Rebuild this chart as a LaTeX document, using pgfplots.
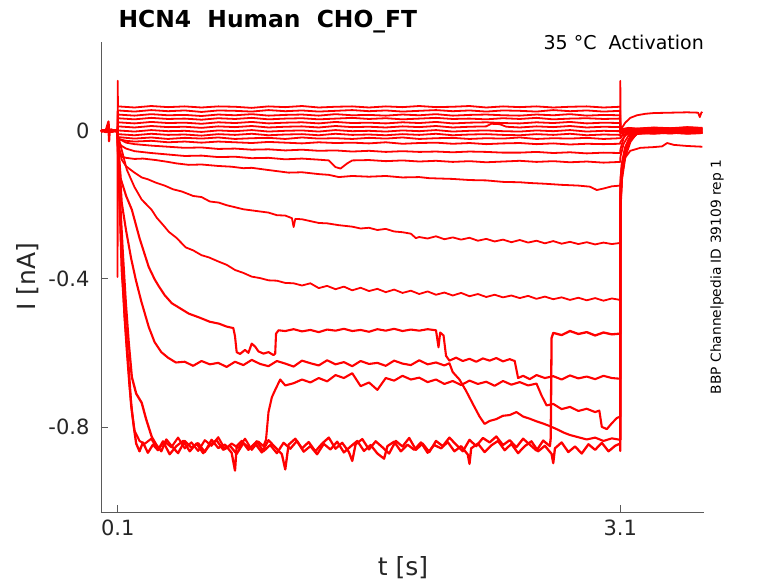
\documentclass[border=0pt]{standalone}
\usepackage{pgfplots}
\pgfplotsset{compat=1.18}
\usepackage{fontspec}
\setmainfont{DejaVu Sans}
\definecolor{axgray}{RGB}{38,38,38}
\definecolor{axline}{RGB}{90,90,90}
\definecolor{tr}{RGB}{255,0,0}
\pgfplotsset{trc/.style={draw=tr, solid, no markers, line width=1.8pt, line join=round}}
\begin{document}
\begin{tikzpicture}
\useasboundingbox (-101pt,-71pt) rectangle (677pt,512pt);
\begin{axis}[
 scale only axis, width=603pt, height=470pt,
 xmin=0, xmax=3.6, ymin=-1.03, ymax=0.24,
 axis lines=left,
 axis line style={-, draw=axline, line width=0.7pt},
 tick align=inside, major tick length=7pt,
 tick style={draw=axline, line width=0.7pt},
 xtick={0.1,3.1}, xticklabels={0.1,3.1},
 ytick={-0.8,-0.4,0}, yticklabels={-0.8,-0.4,0},
 /pgf/number format/assume math mode=true,
 tick label style={font=\fontsize{21}{24}\selectfont, text=axgray},
 yticklabel style={xshift=-8pt},
 xticklabel style={yshift=-4pt},
 clip=false,
]
% N1
\addplot[trc] coordinates {(0,0.003)(0.03,-0.004)(0.06,0.002)(0.099,-0.001)(0.1,0.135)(0.101,0.066)(0.2,0.063)(0.3,0.067)(0.4,0.064)(0.5,0.066)(0.6,0.063)(0.7,0.066)(0.8,0.065)(0.9,0.062)(1.0,0.066)(1.1,0.064)(1.2,0.067)(1.3,0.063)(1.4,0.065)(1.5,0.066)(1.6,0.063)(1.7,0.066)(1.8,0.064)(1.9,0.067)(2.0,0.064)(2.1,0.065)(2.2,0.067)(2.3,0.063)(2.4,0.066)(2.5,0.064)(2.6,0.066)(2.7,0.063)(2.8,0.065)(2.9,0.066)(3.0,0.063)(3.1,0.065)(3.1005,0.135)(3.101,0.004)(3.15,0.007)(3.2,0.005)(3.3,0.008)(3.4,0.006)(3.5,0.009)(3.59,0.007)};
% N2
\addplot[trc] coordinates {(0,-0.002)(0.03,0.003)(0.06,-0.003)(0.099,0.002)(0.101,0.055)(0.2,0.052)(0.3,0.056)(0.4,0.053)(0.5,0.055)(0.6,0.051)(0.7,0.055)(0.8,0.054)(0.9,0.052)(1.0,0.056)(1.1,0.053)(1.2,0.055)(1.3,0.052)(1.4,0.054)(1.5,0.056)(1.6,0.053)(1.7,0.055)(1.8,0.052)(1.9,0.054)(2.0,0.056)(2.1,0.053)(2.2,0.055)(2.3,0.052)(2.4,0.055)(2.5,0.054)(2.6,0.052)(2.7,0.056)(2.8,0.053)(2.9,0.055)(3.0,0.052)(3.1,0.054)(3.101,0.002)(3.13,0.022)(3.16,0.035)(3.2,0.042)(3.25,0.046)(3.3,0.048)(3.4,0.049)(3.5,0.050)(3.565,0.049)(3.575,0.037)(3.585,0.050)(3.59,0.048)};
% N3
\addplot[trc] coordinates {(0,0.001)(0.03,-0.003)(0.06,0.004)(0.099,-0.002)(0.101,0.044)(0.2,0.041)(0.3,0.045)(0.4,0.042)(0.5,0.043)(0.6,0.040)(0.7,0.044)(0.8,0.042)(0.9,0.045)(1.0,0.041)(1.1,0.043)(1.2,0.044)(1.3,0.041)(1.4,0.045)(1.5,0.042)(1.6,0.043)(1.7,0.041)(1.8,0.044)(1.9,0.042)(2.0,0.045)(2.1,0.041)(2.2,0.043)(2.3,0.044)(2.4,0.042)(2.5,0.041)(2.6,0.044)(2.7,0.042)(2.8,0.045)(2.9,0.041)(3.0,0.043)(3.1,0.042)(3.101,0.003)(3.15,0.008)(3.2,0.006)(3.3,0.009)(3.4,0.007)(3.5,0.010)(3.59,0.008)};
% N4
\addplot[trc] coordinates {(0,-0.003)(0.03,0.002)(0.06,-0.001)(0.099,0.003)(0.101,0.034)(0.2,0.031)(0.3,0.035)(0.4,0.032)(0.5,0.033)(0.6,0.030)(0.7,0.034)(0.8,0.032)(0.9,0.035)(1.0,0.031)(1.1,0.033)(1.2,0.034)(1.3,0.031)(1.4,0.033)(1.5,0.035)(1.6,0.032)(1.7,0.034)(1.8,0.031)(1.9,0.033)(2.0,0.035)(2.1,0.032)(2.2,0.033)(2.3,0.031)(2.4,0.034)(2.5,0.032)(2.6,0.035)(2.7,0.031)(2.8,0.033)(2.9,0.034)(3.0,0.032)(3.1,0.033)(3.101,-0.002)(3.15,0.004)(3.2,0.002)(3.3,0.005)(3.4,0.003)(3.5,0.006)(3.59,0.004)};
% N5
\addplot[trc] coordinates {(0,0.002)(0.03,-0.002)(0.06,0.003)(0.099,-0.003)(0.101,0.023)(0.2,0.020)(0.3,0.024)(0.4,0.021)(0.5,0.022)(0.6,0.019)(0.7,0.023)(0.8,0.021)(0.9,0.024)(1.0,0.020)(1.1,0.022)(1.2,0.023)(1.3,0.020)(1.4,0.024)(1.5,0.021)(1.6,0.022)(1.7,0.020)(1.8,0.023)(1.9,0.021)(2.0,0.024)(2.1,0.020)(2.2,0.022)(2.3,0.023)(2.4,0.021)(2.5,0.020)(2.6,0.023)(2.7,0.021)(2.8,0.024)(2.9,0.020)(3.0,0.022)(3.1,0.021)(3.101,-0.004)(3.15,0.002)(3.2,0.0)(3.3,0.003)(3.4,0.001)(3.5,0.004)(3.59,0.002)};
% N6
\addplot[trc] coordinates {(0,-0.001)(0.03,0.003)(0.06,-0.002)(0.099,0.002)(0.101,0.012)(0.2,0.009)(0.3,0.013)(0.4,0.010)(0.5,0.011)(0.6,0.008)(0.7,0.012)(0.8,0.010)(0.9,0.013)(1.0,0.009)(1.1,0.011)(1.2,0.012)(1.3,0.009)(1.4,0.013)(1.5,0.010)(1.6,0.011)(1.7,0.009)(1.8,0.012)(1.9,0.010)(2.0,0.013)(2.1,0.009)(2.2,0.011)(2.3,0.012)(2.33,0.019)(2.38,0.018)(2.42,0.011)(2.5,0.009)(2.6,0.012)(2.7,0.010)(2.8,0.013)(2.9,0.009)(3.0,0.011)(3.1,0.010)(3.101,-0.006)(3.15,0.0)(3.2,-0.002)(3.3,0.001)(3.4,-0.001)(3.5,0.002)(3.59,0.0)};
% N7
\addplot[trc] coordinates {(0,0.002)(0.03,-0.003)(0.06,0.001)(0.0985,-0.001)(0.099,-0.395)(0.0995,-0.002)(0.101,0.001)(0.2,-0.002)(0.3,0.002)(0.4,-0.001)(0.5,0.000)(0.6,-0.003)(0.7,0.001)(0.8,-0.001)(0.9,0.002)(1.0,-0.002)(1.1,0.000)(1.2,0.001)(1.3,-0.002)(1.4,0.002)(1.5,-0.001)(1.6,0.000)(1.7,-0.002)(1.8,0.001)(1.9,-0.001)(2.0,0.002)(2.1,-0.002)(2.2,0.000)(2.3,0.001)(2.4,-0.001)(2.5,-0.002)(2.6,0.001)(2.7,-0.001)(2.8,0.002)(2.9,-0.002)(3.0,0.000)(3.1,-0.001)(3.101,-0.008)(3.15,-0.002)(3.2,-0.004)(3.3,-0.001)(3.4,-0.003)(3.5,0.000)(3.59,-0.002)};
% N8
\addplot[trc] coordinates {(0,-0.002)(0.03,0.002)(0.06,-0.003)(0.099,0.001)(0.101,-0.009)(0.2,-0.012)(0.3,-0.008)(0.4,-0.011)(0.5,-0.010)(0.6,-0.013)(0.7,-0.009)(0.8,-0.011)(0.9,-0.008)(1.0,-0.012)(1.1,-0.010)(1.2,-0.009)(1.3,-0.012)(1.4,-0.008)(1.5,-0.011)(1.6,-0.010)(1.7,-0.012)(1.8,-0.009)(1.9,-0.011)(2.0,-0.008)(2.1,-0.012)(2.2,-0.010)(2.3,-0.009)(2.4,-0.011)(2.5,-0.012)(2.6,-0.009)(2.7,-0.011)(2.8,-0.008)(2.9,-0.012)(3.0,-0.010)(3.1,-0.011)(3.101,-0.015)(3.15,-0.005)(3.2,-0.003)(3.3,-0.006)(3.4,-0.004)(3.5,-0.002)(3.59,-0.004)};
% N9
\addplot[trc] coordinates {(0,0.003)(0.03,-0.002)(0.06,0.002)(0.099,-0.002)(0.101,-0.017)(0.2,-0.021)(0.3,-0.018)(0.4,-0.022)(0.5,-0.019)(0.6,-0.021)(0.7,-0.018)(0.8,-0.022)(0.9,-0.020)(1.0,-0.019)(1.1,-0.022)(1.2,-0.018)(1.3,-0.021)(1.4,-0.020)(1.5,-0.022)(1.6,-0.019)(1.7,-0.021)(1.8,-0.018)(1.9,-0.022)(2.0,-0.020)(2.1,-0.019)(2.2,-0.022)(2.3,-0.020)(2.4,-0.021)(2.5,-0.018)(2.6,-0.022)(2.7,-0.020)(2.8,-0.021)(2.9,-0.019)(3.0,-0.022)(3.1,-0.020)(3.101,-0.02)(3.12,-0.006)(3.15,0.002)(3.2,0.004)(3.3,0.002)(3.4,0.005)(3.5,0.003)(3.59,0.004)};
% N10
\addplot[trc] coordinates {(0,-0.001)(0.03,0.003)(0.06,-0.002)(0.099,0.002)(0.101,-0.022)(0.15,-0.027)(0.2,-0.029)(0.3,-0.027)(0.4,-0.031)(0.5,-0.029)(0.6,-0.032)(0.7,-0.029)(0.8,-0.031)(0.9,-0.033)(1.0,-0.030)(1.1,-0.032)(1.2,-0.034)(1.3,-0.031)(1.4,-0.033)(1.5,-0.032)(1.6,-0.034)(1.7,-0.031)(1.8,-0.035)(1.9,-0.033)(2.0,-0.032)(2.1,-0.035)(2.2,-0.033)(2.3,-0.036)(2.4,-0.034)(2.5,-0.033)(2.6,-0.036)(2.7,-0.034)(2.8,-0.037)(2.9,-0.035)(3.0,-0.036)(3.1,-0.035)(3.101,-0.03)(3.13,-0.012)(3.16,-0.006)(3.2,-0.005)(3.3,-0.007)(3.4,-0.005)(3.5,-0.008)(3.59,-0.006)};
% N11
\addplot[trc] coordinates {(0,0.001)(0.03,-0.002)(0.06,0.003)(0.099,-0.001)(0.101,-0.02)(0.15,-0.032)(0.2,-0.036)(0.3,-0.040)(0.4,-0.043)(0.5,-0.046)(0.6,-0.045)(0.7,-0.049)(0.8,-0.048)(0.9,-0.051)(1.0,-0.050)(1.1,-0.053)(1.2,-0.051)(1.3,-0.054)(1.4,-0.053)(1.5,-0.056)(1.6,-0.054)(1.7,-0.057)(1.8,-0.055)(1.9,-0.057)(2.0,-0.056)(2.1,-0.058)(2.2,-0.056)(2.3,-0.057)(2.4,-0.059)(2.5,-0.059)(2.6,-0.057)(2.7,-0.060)(2.8,-0.058)(2.9,-0.061)(3.0,-0.059)(3.1,-0.060)(3.101,-0.05)(3.12,-0.02)(3.15,0.002)(3.2,0.006)(3.3,0.004)(3.4,0.007)(3.5,0.005)(3.59,0.006)};
% N12
\addplot[trc] coordinates {(0,-0.002)(0.03,0.002)(0.06,-0.001)(0.099,0.001)(0.101,-0.025)(0.12,-0.04)(0.15,-0.048)(0.2,-0.055)(0.3,-0.060)(0.4,-0.064)(0.5,-0.068)(0.6,-0.067)(0.7,-0.071)(0.8,-0.070)(0.9,-0.074)(1.0,-0.073)(1.1,-0.077)(1.2,-0.075)(1.3,-0.078)(1.36,-0.080)(1.40,-0.098)(1.43,-0.102)(1.47,-0.088)(1.5,-0.080)(1.6,-0.079)(1.7,-0.082)(1.8,-0.080)(1.9,-0.083)(2.0,-0.081)(2.1,-0.084)(2.2,-0.082)(2.3,-0.085)(2.4,-0.083)(2.5,-0.081)(2.6,-0.084)(2.7,-0.082)(2.8,-0.085)(2.9,-0.083)(3.0,-0.086)(3.1,-0.084)(3.101,-0.07)(3.12,-0.035)(3.15,-0.012)(3.2,-0.006)(3.3,-0.008)(3.4,-0.005)(3.5,-0.007)(3.59,-0.006)};
% A2
\addplot[trc] coordinates {(0,0.002)(0.03,-0.002)(0.06,0.002)(0.099,-0.002)(0.101,-0.04)(0.124,-0.07)(0.15,-0.073)(0.2,-0.076)(0.25,-0.075)(0.327,-0.079)(0.4,-0.084)(0.45,-0.088)(0.524,-0.092)(0.6,-0.091)(0.7,-0.095)(0.78,-0.097)(0.85,-0.101)(0.9,-0.100)(1.0,-0.106)(1.12,-0.113)(1.2,-0.112)(1.3,-0.117)(1.36,-0.119)(1.42,-0.125)(1.5,-0.122)(1.6,-0.124)(1.7,-0.122)(1.8,-0.126)(1.9,-0.125)(1.96,-0.128)(2.1,-0.130)(2.2,-0.133)(2.3,-0.134)(2.4,-0.138)(2.5,-0.139)(2.56,-0.141)(2.65,-0.143)(2.75,-0.146)(2.85,-0.148)(2.92,-0.151)(2.96,-0.160)(3.0,-0.156)(3.05,-0.150)(3.1,-0.148)(3.101,-0.15)(3.11,-0.105)(3.13,-0.072)(3.16,-0.054)(3.22,-0.046)(3.3,-0.044)(3.35,-0.042)(3.38,-0.033)(3.42,-0.038)(3.5,-0.041)(3.59,-0.043)};
% A
\addplot[trc] coordinates {(0,-0.001)(0.03,0.003)(0.06,-0.002)(0.099,0.002)(0.1,-0.02)(0.11,-0.05)(0.124,-0.078)(0.15,-0.096)(0.2,-0.113)(0.243,-0.126)(0.28,-0.131)(0.327,-0.140)(0.38,-0.148)(0.43,-0.158)(0.483,-0.164)(0.55,-0.176)(0.6,-0.179)(0.65,-0.191)(0.704,-0.194)(0.75,-0.201)(0.805,-0.207)(0.85,-0.212)(0.9,-0.215)(0.95,-0.218)(1.0,-0.221)(1.05,-0.228)(1.1,-0.229)(1.14,-0.236)(1.15,-0.26)(1.16,-0.238)(1.2,-0.239)(1.25,-0.244)(1.3,-0.249)(1.35,-0.250)(1.42,-0.255)(1.5,-0.259)(1.55,-0.264)(1.6,-0.262)(1.65,-0.268)(1.7,-0.265)(1.75,-0.272)(1.8,-0.274)(1.85,-0.278)(1.88,-0.290)(1.9,-0.287)(1.95,-0.291)(2.0,-0.285)(2.05,-0.293)(2.1,-0.288)(2.15,-0.294)(2.2,-0.289)(2.25,-0.297)(2.3,-0.292)(2.35,-0.299)(2.4,-0.294)(2.45,-0.301)(2.5,-0.295)(2.55,-0.302)(2.6,-0.297)(2.65,-0.304)(2.7,-0.298)(2.75,-0.305)(2.8,-0.300)(2.85,-0.306)(2.9,-0.301)(2.95,-0.307)(3.0,-0.302)(3.05,-0.306)(3.1,-0.303)(3.101,-0.13)(3.11,-0.09)(3.13,-0.05)(3.16,-0.02)(3.2,-0.006)(3.3,-0.004)(3.4,-0.006)(3.5,-0.003)(3.59,-0.005)};
% B
\addplot[trc] coordinates {(0,0.002)(0.03,-0.002)(0.06,0.003)(0.099,-0.001)(0.1,-0.01)(0.12,-0.045)(0.154,-0.105)(0.2,-0.152)(0.243,-0.186)(0.28,-0.203)(0.303,-0.214)(0.333,-0.235)(0.37,-0.254)(0.405,-0.273)(0.45,-0.289)(0.506,-0.315)(0.55,-0.323)(0.6,-0.336)(0.644,-0.342)(0.7,-0.353)(0.75,-0.362)(0.8,-0.376)(0.85,-0.384)(0.9,-0.394)(0.95,-0.398)(1.0,-0.404)(1.05,-0.405)(1.1,-0.411)(1.15,-0.412)(1.2,-0.418)(1.25,-0.412)(1.3,-0.425)(1.35,-0.419)(1.4,-0.428)(1.45,-0.421)(1.5,-0.431)(1.55,-0.424)(1.6,-0.433)(1.65,-0.427)(1.7,-0.436)(1.75,-0.429)(1.8,-0.438)(1.85,-0.432)(1.9,-0.441)(1.95,-0.434)(2.0,-0.443)(2.05,-0.437)(2.1,-0.445)(2.15,-0.438)(2.2,-0.447)(2.25,-0.441)(2.3,-0.449)(2.35,-0.443)(2.4,-0.450)(2.45,-0.445)(2.5,-0.452)(2.55,-0.446)(2.6,-0.454)(2.65,-0.448)(2.7,-0.455)(2.75,-0.450)(2.8,-0.457)(2.85,-0.451)(2.9,-0.458)(2.95,-0.452)(3.0,-0.459)(3.05,-0.453)(3.1,-0.457)(3.101,-0.18)(3.11,-0.12)(3.13,-0.06)(3.16,-0.025)(3.2,-0.006)(3.3,-0.003)(3.4,-0.005)(3.5,-0.002)(3.59,-0.004)};
% C
\addplot[trc, line width=2.1pt] coordinates {(0,-0.002)(0.03,0.002)(0.06,-0.003)(0.099,0.002)(0.1,-0.02)(0.118,-0.13)(0.15,-0.176)(0.184,-0.213)(0.23,-0.29)(0.285,-0.368)(0.32,-0.401)(0.345,-0.42)(0.38,-0.444)(0.423,-0.466)(0.47,-0.479)(0.524,-0.494)(0.584,-0.504)(0.65,-0.516)(0.704,-0.521)(0.75,-0.529)(0.79,-0.533)(0.8,-0.555)(0.81,-0.598)(0.83,-0.603)(0.86,-0.592)(0.88,-0.600)(0.9,-0.575)(0.92,-0.583)(0.94,-0.596)(0.97,-0.602)(1.0,-0.598)(1.03,-0.606)(1.04,-0.602)(1.045,-0.548)(1.06,-0.539)(1.1,-0.541)(1.15,-0.536)(1.2,-0.542)(1.25,-0.538)(1.3,-0.544)(1.35,-0.537)(1.4,-0.540)(1.45,-0.535)(1.5,-0.541)(1.55,-0.538)(1.6,-0.543)(1.65,-0.536)(1.7,-0.540)(1.75,-0.535)(1.8,-0.541)(1.85,-0.537)(1.9,-0.540)(1.95,-0.536)(2.0,-0.539)(2.015,-0.585)(2.025,-0.545)(2.045,-0.553)(2.06,-0.608)(2.08,-0.621)(2.12,-0.613)(2.16,-0.622)(2.2,-0.616)(2.24,-0.624)(2.28,-0.615)(2.32,-0.621)(2.36,-0.614)(2.4,-0.623)(2.44,-0.617)(2.47,-0.622)(2.49,-0.668)(2.52,-0.662)(2.56,-0.671)(2.6,-0.660)(2.65,-0.668)(2.7,-0.663)(2.75,-0.672)(2.8,-0.661)(2.85,-0.669)(2.9,-0.664)(2.95,-0.671)(3.0,-0.662)(3.05,-0.668)(3.1,-0.67)(3.101,-0.2)(3.11,-0.13)(3.13,-0.07)(3.16,-0.03)(3.2,-0.005)(3.3,0.003)(3.4,0.001)(3.5,0.004)(3.59,0.002)};
% D
\addplot[trc, line width=2.1pt] coordinates {(0,0.001)(0.03,-0.003)(0.06,0.002)(0.099,-0.002)(0.1,-0.02)(0.124,-0.195)(0.15,-0.27)(0.18,-0.345)(0.208,-0.403)(0.24,-0.46)(0.285,-0.53)(0.32,-0.571)(0.36,-0.598)(0.4,-0.613)(0.447,-0.626)(0.5,-0.624)(0.55,-0.635)(0.6,-0.622)(0.65,-0.631)(0.7,-0.627)(0.75,-0.638)(0.8,-0.624)(0.85,-0.633)(0.9,-0.619)(0.95,-0.630)(1.0,-0.636)(1.05,-0.622)(1.1,-0.629)(1.15,-0.637)(1.2,-0.621)(1.25,-0.628)(1.3,-0.634)(1.35,-0.620)(1.4,-0.631)(1.45,-0.625)(1.5,-0.636)(1.55,-0.622)(1.6,-0.630)(1.65,-0.627)(1.7,-0.635)(1.75,-0.621)(1.8,-0.629)(1.85,-0.633)(1.9,-0.620)(1.95,-0.631)(2.0,-0.626)(2.05,-0.634)(2.08,-0.628)(2.1,-0.652)(2.14,-0.672)(2.18,-0.703)(2.22,-0.738)(2.26,-0.772)(2.29,-0.792)(2.32,-0.784)(2.36,-0.779)(2.4,-0.770)(2.44,-0.768)(2.48,-0.760)(2.52,-0.772)(2.56,-0.778)(2.6,-0.785)(2.64,-0.791)(2.68,-0.798)(2.72,-0.806)(2.76,-0.815)(2.8,-0.822)(2.85,-0.828)(2.9,-0.834)(2.95,-0.829)(3.0,-0.838)(3.05,-0.831)(3.1,-0.835)(3.101,-0.19)(3.11,-0.12)(3.13,-0.06)(3.16,-0.025)(3.2,-0.008)(3.3,-0.004)(3.4,-0.007)(3.5,-0.003)(3.59,-0.005)};
% F
\addplot[trc, line width=2.1pt] coordinates {(0,-0.002)(0.03,0.003)(0.06,-0.001)(0.099,0.002)(0.1,-0.03)(0.112,-0.2)(0.125,-0.36)(0.14,-0.5)(0.155,-0.6)(0.17,-0.69)(0.185,-0.76)(0.2,-0.81)(0.23,-0.838)(0.26,-0.846)(0.3,-0.832)(0.34,-0.861)(0.38,-0.840)(0.42,-0.855)(0.46,-0.829)(0.5,-0.858)(0.54,-0.842)(0.58,-0.865)(0.62,-0.836)(0.66,-0.851)(0.7,-0.828)(0.74,-0.860)(0.78,-0.845)(0.82,-0.857)(0.86,-0.832)(0.9,-0.862)(0.94,-0.840)(0.97,-0.852)(0.985,-0.835)(1.0,-0.76)(1.02,-0.72)(1.04,-0.70)(1.07,-0.672)(1.1,-0.688)(1.15,-0.682)(1.2,-0.672)(1.25,-0.680)(1.3,-0.668)(1.35,-0.677)(1.4,-0.660)(1.45,-0.668)(1.5,-0.655)(1.55,-0.690)(1.6,-0.680)(1.65,-0.700)(1.7,-0.668)(1.75,-0.675)(1.8,-0.662)(1.85,-0.672)(1.9,-0.667)(1.95,-0.679)(2.0,-0.672)(2.05,-0.684)(2.1,-0.676)(2.15,-0.687)(2.2,-0.675)(2.25,-0.684)(2.3,-0.678)(2.35,-0.689)(2.4,-0.676)(2.45,-0.686)(2.5,-0.679)(2.55,-0.688)(2.6,-0.683)(2.63,-0.715)(2.66,-0.742)(2.7,-0.738)(2.75,-0.752)(2.8,-0.746)(2.85,-0.757)(2.9,-0.751)(2.95,-0.760)(2.975,-0.756)(2.99,-0.80)(3.02,-0.806)(3.05,-0.79)(3.08,-0.776)(3.1,-0.772)(3.101,-0.17)(3.11,-0.1)(3.13,-0.05)(3.16,-0.018)(3.2,-0.002)(3.3,0.001)(3.4,-0.001)(3.5,0.002)(3.59,0.0)};
% E
\addplot[trc, line width=2.3pt] coordinates {(0,0.002)(0.03,-0.002)(0.06,0.001)(0.099,-0.002)(0.1,-0.03)(0.115,-0.2)(0.13,-0.33)(0.148,-0.465)(0.165,-0.57)(0.184,-0.665)(0.21,-0.71)(0.243,-0.735)(0.27,-0.78)(0.303,-0.827)(0.33,-0.848)(0.36,-0.866)(0.39,-0.834)(0.42,-0.851)(0.46,-0.871)(0.5,-0.838)(0.54,-0.856)(0.58,-0.844)(0.62,-0.868)(0.66,-0.835)(0.7,-0.857)(0.74,-0.848)(0.78,-0.870)(0.8,-0.918)(0.81,-0.852)(0.84,-0.838)(0.88,-0.862)(0.92,-0.845)(0.96,-0.869)(1.0,-0.836)(1.04,-0.855)(1.08,-0.874)(1.1,-0.915)(1.12,-0.848)(1.16,-0.832)(1.2,-0.858)(1.24,-0.841)(1.28,-0.866)(1.32,-0.845)(1.36,-0.829)(1.4,-0.859)(1.44,-0.843)(1.48,-0.868)(1.5,-0.892)(1.52,-0.847)(1.56,-0.833)(1.6,-0.861)(1.64,-0.839)(1.68,-0.855)(1.72,-0.872)(1.76,-0.838)(1.8,-0.853)(1.84,-0.830)(1.88,-0.862)(1.92,-0.845)(1.96,-0.868)(2.0,-0.838)(2.04,-0.852)(2.08,-0.829)(2.12,-0.848)(2.16,-0.866)(2.2,-0.835)(2.24,-0.852)(2.28,-0.830)(2.32,-0.842)(2.36,-0.826)(2.4,-0.849)(2.44,-0.836)(2.48,-0.855)(2.52,-0.832)(2.56,-0.848)(2.6,-0.864)(2.64,-0.837)(2.68,-0.852)(2.685,-0.83)(2.69,-0.56)(2.7,-0.546)(2.75,-0.552)(2.8,-0.541)(2.85,-0.549)(2.9,-0.544)(2.95,-0.553)(3.0,-0.545)(3.05,-0.550)(3.1,-0.548)(3.101,-0.15)(3.11,-0.09)(3.13,-0.045)(3.16,-0.015)(3.2,0.004)(3.3,0.007)(3.4,0.005)(3.5,0.008)(3.59,0.006)};
% G
\addplot[trc, line width=2.3pt] coordinates {(0,-0.001)(0.03,0.002)(0.045,0.025)(0.048,-0.028)(0.052,0.003)(0.06,-0.002)(0.099,0.001)(0.1,-0.03)(0.11,-0.17)(0.124,-0.376)(0.145,-0.52)(0.166,-0.646)(0.18,-0.74)(0.196,-0.8)(0.21,-0.845)(0.23,-0.866)(0.25,-0.842)(0.28,-0.87)(0.31,-0.848)(0.34,-0.863)(0.37,-0.839)(0.41,-0.874)(0.45,-0.852)(0.49,-0.838)(0.53,-0.866)(0.57,-0.845)(0.61,-0.871)(0.65,-0.849)(0.69,-0.836)(0.73,-0.862)(0.77,-0.851)(0.81,-0.873)(0.85,-0.844)(0.89,-0.858)(0.93,-0.839)(0.97,-0.866)(1.01,-0.849)(1.05,-0.871)(1.09,-0.843)(1.13,-0.859)(1.17,-0.838)(1.21,-0.867)(1.25,-0.852)(1.29,-0.874)(1.33,-0.846)(1.37,-0.861)(1.41,-0.840)(1.45,-0.869)(1.49,-0.853)(1.53,-0.838)(1.57,-0.865)(1.61,-0.849)(1.65,-0.872)(1.69,-0.886)(1.71,-0.852)(1.75,-0.840)(1.79,-0.866)(1.83,-0.848)(1.87,-0.862)(1.91,-0.842)(1.95,-0.870)(1.99,-0.849)(2.03,-0.858)(2.07,-0.841)(2.11,-0.866)(2.15,-0.852)(2.19,-0.875)(2.2,-0.900)(2.21,-0.858)(2.25,-0.845)(2.29,-0.868)(2.33,-0.850)(2.37,-0.838)(2.41,-0.863)(2.45,-0.846)(2.49,-0.871)(2.53,-0.852)(2.57,-0.839)(2.61,-0.866)(2.65,-0.851)(2.69,-0.873)(2.7,-0.898)(2.71,-0.858)(2.75,-0.842)(2.79,-0.868)(2.83,-0.853)(2.87,-0.872)(2.91,-0.847)(2.95,-0.862)(2.99,-0.843)(3.03,-0.866)(3.07,-0.851)(3.1,-0.845)(3.1005,-0.865)(3.102,-0.2)(3.11,-0.12)(3.125,-0.06)(3.15,-0.025)(3.2,-0.008)(3.3,-0.004)(3.4,-0.006)(3.5,-0.003)(3.59,-0.005)};
\node[anchor=base west, font=\fontsize{23.4}{26}\selectfont\bfseries, text=black] at (rel axis cs:0.0232,1.0298) {HCN4\ \ Human\ \ CHO\_FT};
\node[anchor=base east, font=\fontsize{19}{22}\selectfont, text=black, inner sep=0pt] at (rel axis cs:1,0.983) {35 °C\ \ Activation};
\node[rotate=90, font=\fontsize{13.8}{16}\selectfont, text=black] at (rel axis cs:1.0216,0.5) {BBP Channelpedia ID 39109 rep 1};
\node[rotate=90, font=\fontsize{25}{28}\selectfont, text=axgray] at (rel axis cs:-0.121,0.5) {I [nA]};
\node[font=\fontsize{25}{28}\selectfont, text=axgray] at (rel axis cs:0.501,-0.118) {t [s]};
\end{axis}
\end{tikzpicture}
\end{document}
